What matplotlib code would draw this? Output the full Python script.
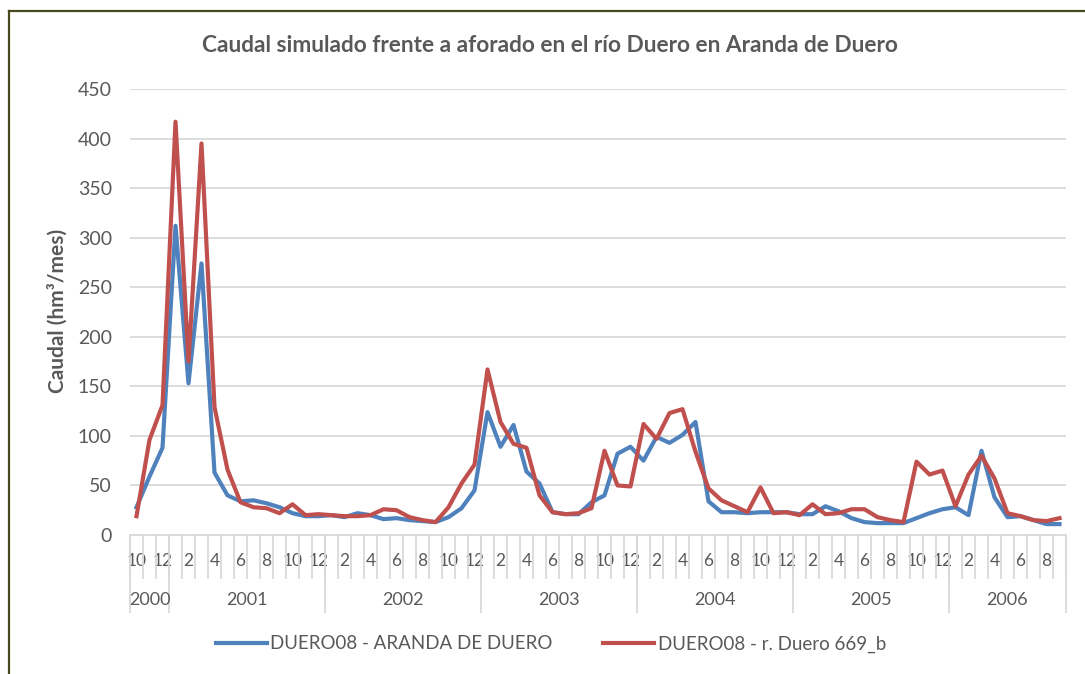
import matplotlib
matplotlib.use("Agg")
import matplotlib.pyplot as plt
import numpy as np
import pandas as pd
from matplotlib.lines import Line2D

plt.rcParams["font.family"] = ["Lato", "DejaVu Sans"]

# meses hidrológicos oct-2000 .. sep-2006
fechas = pd.date_range("2000-10-01", "2006-09-01", freq="MS")

# caudal mensual (hm3/mes)
aforado = [28, 59, 88, 312, 153, 274, 63, 40, 34, 35, 32, 28,
           22, 19, 19, 20, 18, 22, 20, 16, 17, 15, 14, 13,
           18, 27, 45, 124, 89, 111, 64, 52, 23, 21, 21, 33,
           40, 82, 89, 75, 99, 93, 101, 114, 34, 23, 23, 22,
           23, 23, 23, 21, 21, 29, 24, 17, 13, 12, 12, 12,
           17, 22, 26, 28, 20, 85, 38, 18, 19, 15, 11, 11]
simulado = [19, 96, 131, 417, 175, 395, 129, 66, 33, 28, 27, 22,
            31, 20, 21, 20, 19, 19, 20, 26, 25, 18, 15, 13,
            28, 52, 71, 167, 114, 92, 88, 40, 23, 21, 22, 27,
            85, 50, 49, 112, 97, 123, 127, 84, 47, 35, 29, 23,
            48, 22, 23, 20, 31, 21, 22, 26, 26, 18, 15, 13,
            74, 61, 65, 29, 61, 80, 57, 22, 19, 15, 14, 17]

serie_aforada = "DUERO08 - ARANDA DE DUERO"
serie_simulada = "DUERO08 - r. Duero 669_b"

GRIS_TXT = "#595959"
GRIS_LIN = "#D9D9D9"

fig = plt.figure(figsize=(10.85, 6.74), dpi=100)
ax = fig.add_axes([130 / 1085, 1 - 535 / 674, 936 / 1085, 446 / 674])

x = np.arange(len(fechas))
ax.plot(x, aforado, color="#4F81BD", lw=3, label=serie_aforada, zorder=3)
ax.plot(x, simulado, color="#C0504D", lw=3, label=serie_simulada, zorder=4)

ax.set_xlim(-0.5, len(x) - 0.5)
ax.set_ylim(0, 450)
ax.set_yticks(range(0, 451, 50))
ax.grid(axis="y", color=GRIS_LIN, lw=1.3)
ax.set_axisbelow(True)
for s in ("top", "right", "left"):
    ax.spines[s].set_visible(False)
ax.spines["bottom"].set_color(GRIS_LIN)
ax.spines["bottom"].set_linewidth(1.3)
ax.tick_params(axis="y", length=0, pad=13, labelsize=14, labelcolor=GRIS_TXT)

# etiquetas de mes cada dos meses
ax.set_xticks(x[::2], [str(m) for m in fechas.month[::2]])
ax.tick_params(axis="x", which="major", length=0, pad=13, labelsize=12.5, labelcolor=GRIS_TXT)
ax.set_xticks(np.arange(-0.5, len(x)), minor=True)
ax.tick_params(axis="x", which="minor", length=32, width=1.3, color=GRIS_LIN)

# segundo nivel: años
anos = fechas.year
limites = [-0.5] + [i - 0.5 for i in range(1, len(x)) if anos[i] != anos[i - 1]] + [len(x) - 0.5]
centros = [(a + b) / 2 for a, b in zip(limites[:-1], limites[1:])]
sec = ax.secondary_xaxis(0)
sec.spines["bottom"].set_visible(False)
sec.set_xticks(limites, [""] * len(limites))
sec.tick_params(which="major", length=56, width=1.3, color=GRIS_LIN)
sec.set_xticks(centros, [str(a) for a in sorted(set(anos))], minor=True)
sec.tick_params(which="minor", length=0, pad=41, labelsize=13, labelcolor=GRIS_TXT)

fig.text(0.507, 0.933, "Caudal simulado frente a aforado en el río Duero en Aranda de Duero",
         ha="center", va="center", fontsize=16.3, fontweight="bold", color=GRIS_TXT)
fig.text(57 / 1085, 1 - 311 / 674, "Caudal (hm³/mes)", rotation=90,
         ha="center", va="center", fontsize=15, fontweight="bold", color=GRIS_TXT)

fig.legend(loc="center", bbox_to_anchor=(551 / 1085, 1 - 644 / 674), ncol=2,
           frameon=False, fontsize=13.5, handlelength=2.7, handletextpad=0.2,
           columnspacing=2.7, labelcolor=GRIS_TXT)

# marco del gráfico
borde = "#4A4A1F"
fig.add_artist(Line2D([9 / 1085, 9 / 1085], [0, 1 - 11 / 674], color=borde, lw=1.6))
fig.add_artist(Line2D([9 / 1085, 1], [1 - 11 / 674, 1 - 11 / 674], color=borde, lw=1.6))

fig.savefig("out.png", dpi=100)
